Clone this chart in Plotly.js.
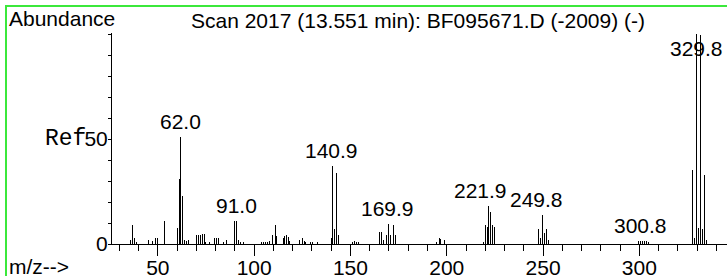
<!DOCTYPE html>
<html>
<head>
<meta charset="utf-8">
<script src="https://cdn.plot.ly/plotly-3.0.1.min.js"></script>
<style>
  html, body { margin:0; padding:0; background:#fff; overflow:hidden; }
  #chart { width:727px; height:276px; position:absolute; left:0; top:0; }
  #chart path.js-line { shape-rendering: crispEdges; }
  #frame { position:absolute; left:5px; top:5px; width:2000px; height:2000px;
           border-left:2px solid #3be83b; border-top:2px solid #3be83b; pointer-events:none; }
</style>
</head>
<body>
<div id="chart"></div>
<div id="frame"></div>
<script>
// ---- data ----
const mz = [36.0, 37.0, 38.0, 39.0, 45.0, 47.0, 49.0, 50.0, 53.4,
  60.0, 61.0, 62.0, 63.0, 64.0, 65.0, 66.0,
  70.0, 71.0, 72.0, 73.0, 74.0, 75.0, 77.0, 79.4, 80.5, 81.6, 84.0, 85.7,
  90.0, 91.0, 92.0, 93.0, 94.3,
  104.0, 105.0, 106.0, 107.0, 108.0, 109.4, 110.9, 111.7,
  115.1, 116.0, 116.9, 117.7, 118.6, 123.8, 125.0, 125.9, 126.9, 129.0, 130.4, 132.8,
  139.9, 140.9, 141.9, 142.9, 143.9,
  151.1, 152.0, 152.9, 154.1,
  164.9, 165.9, 166.9, 168.9, 169.9, 170.9, 172.3, 173.4,
  194.8, 196.0, 197.0, 199.0,
  218.9, 219.9, 220.9, 221.9, 222.9, 223.9, 224.9,
  247.8, 248.8, 249.8, 250.8, 251.8, 252.8,
  299.4, 300.8, 301.8, 302.8, 303.8, 305.0,
  327.8, 328.8, 329.8, 330.8, 331.8, 332.8, 333.8, 334.8];
const abundance = [1.9, 9.0, 2.7, 1.0, 1.9, 1.5, 3.0, 3.0, 11.1,
  7.5, 30.8, 51.1, 23.0, 1.9, 1.5, 1.9,
  4.3, 4.3, 4.3, 4.6, 4.6, 1.0, 1.0, 2.7, 2.7, 2.7, 1.0, 1.9,
  11.1, 11.1, 1.9, 1.0, 1.0,
  1.0, 1.0, 1.0, 1.0, 1.2, 4.3, 9.0, 3.8,
  2.7, 3.8, 4.3, 3.2, 1.6, 1.9, 2.7, 1.5, 1.0, 1.0, 1.0, 1.0,
  2.7, 37.1, 7.3, 34.0, 4.3,
  1.1, 1.2, 1.1, 0.8,
  5.9, 5.9, 2.0, 4.3, 9.5, 4.5, 9.0, 4.3,
  1.1, 2.9, 2.2, 1.9,
  1.0, 9.0, 8.2, 17.9, 15.4, 9.0, 8.0,
  7.0, 2.7, 13.8, 5.1, 7.0, 1.9,
  1.2, 1.6, 1.6, 1.4, 1.2, 0.8,
  35.2, 2.7, 100.0, 7.5, 99.5, 7.0, 32.9, 2.0];
const labelMz = [62.0, 91.0, 140.9, 169.9, 221.9, 249.8, 300.8, 329.8];
const labelText = ["62.0", "91.0", "140.9", "169.9", "221.9", "249.8", "300.8", "329.8"];
const xTickVals = [50, 100, 150, 200, 250, 300];
const yTickVals = [0, 50];
const yTickText = ["0", "50"];
const titleText = "Scan 2017 (13.551 min): BF095671.D (-2009) (-)";

// ---- label placement (pixels only) ----
const labelXShift = [0, 0, -1, -1, -8, -6, 0, 0];

// ---- build stick lines ----
const sx = [], sy = [];
mz.forEach((m, i) => { sx.push(m, m, null); sy.push(0, abundance[i], null); });

const FONT = "Liberation Sans, Arial, sans-serif";
const ann = [];
labelMz.forEach((m, i) => {
  let k = 0, best = 1e9;
  mz.forEach((v, j) => { if (Math.abs(v - m) < best) { best = Math.abs(v - m); k = j; } });
  const h = abundance[k];
  const top = h > 90;
  ann.push({
    x: m, y: top ? 100.5 : h, xref: 'x', yref: 'y', text: labelText[i], showarrow: false,
    xanchor: 'center', yanchor: top ? 'top' : 'bottom', xshift: labelXShift[i], yshift: top ? -2 : 2,
    font: {family: FONT, size: 21, color: '#000'}
  });
});
ann.push({xref:'paper', yref:'paper', x:(7-112)/615, y:(244-19)/211, xanchor:'left', yanchor:'middle',
  text:'Abundance', showarrow:false, font:{family:FONT, size:21, color:'#000'}});
ann.push({xref:'paper', yref:'paper', x:(7-112)/615, y:(244-266)/211, xanchor:'left', yanchor:'middle',
  text:'m/z-->', showarrow:false, font:{family:FONT, size:21, color:'#000'}});
ann.push({xref:'paper', yref:'y', x:(88-112)/615, y:50, xanchor:'right', yanchor:'middle',
  text:'Ref', showarrow:false, font:{family:'Liberation Mono, Courier New, monospace', size:23, color:'#000'}});

const trace = {x: sx, y: sy, type: 'scatter', mode: 'lines',
  line: {color: '#000', width: 1}, hoverinfo: 'skip', showlegend: false};

const layout = {
  width: 727, height: 276,
  margin: {l: 112, r: 0, t: 33, b: 32, pad: 0},
  paper_bgcolor: '#fff', plot_bgcolor: '#fff',
  font: {family: FONT, size: 21, color: '#000'},
  title: {text: titleText, font: {family: FONT, size: 21, color: '#000'},
    xref: 'container', yref: 'container', x: 418/727, xanchor: 'center', y: 1 - 20.5/276, yanchor: 'middle'},
  xaxis: {range: [26.2, 345.5], showline: true, linecolor: '#000', linewidth: 1,
    showgrid: false, zeroline: false, ticks: 'outside', tickmode: 'array', tickvals: xTickVals,
    ticklen: 11, tickwidth: 1, tickcolor: '#000', ticklabelstandoff: -6,
    tickfont: {family: FONT, size: 21, color: '#000'},
    minor: {tick0: 0, dtick: 10, ticks: 'outside', ticklen: 6, tickwidth: 1, tickcolor: '#000', showgrid: false}},
  yaxis: {range: [0, 100.5], showline: true, linecolor: '#000', linewidth: 1,
    showgrid: false, zeroline: false, ticks: 'outside', tickmode: 'array', tickvals: yTickVals, ticktext: yTickText,
    ticklen: 3, tickwidth: 1, tickcolor: '#000', ticklabelstandoff: -4,
    tickfont: {family: FONT, size: 21, color: '#000'},
    minor: {tick0: 0, dtick: 10, ticks: 'outside', ticklen: 3, tickwidth: 1, tickcolor: '#000', showgrid: false}},
  annotations: ann
};

Plotly.newPlot('chart', [trace], layout, {staticPlot: true, displayModeBar: false});
</script>
</body>
</html>
